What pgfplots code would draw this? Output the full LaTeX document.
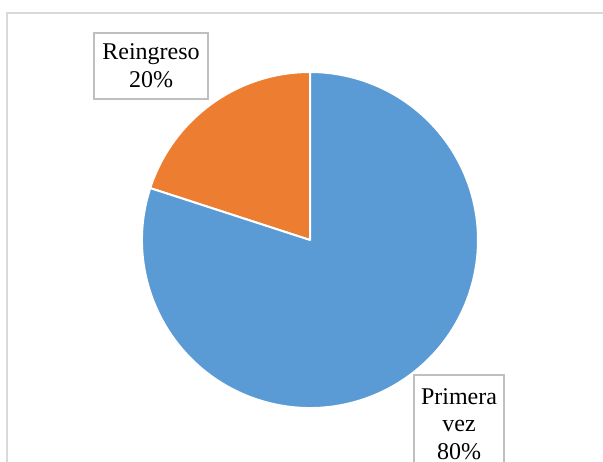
\documentclass[border=0pt]{standalone}
\usepackage{fontspec}
\setmainfont{Liberation Serif}
\usepackage{pgfplots}
\usepackage{pgfplotstable}
\pgfplotsset{compat=1.18}
\definecolor{cBlue}{HTML}{5B9BD5}
\definecolor{cOrange}{HTML}{ED7D31}
\definecolor{cFrame}{HTML}{D9D9D9}
\definecolor{cLbl}{HTML}{BFBFBF}
\pgfplotstableread{
label value
Primera 80
Reingreso 20
}\piedata
\begin{document}
\begin{tikzpicture}
\pgfplotstablegetelem{0}{value}\of\piedata \pgfmathsetmacro{\vA}{\pgfplotsretval}
\pgfplotstablegetelem{1}{value}\of\piedata \pgfmathsetmacro{\vB}{\pgfplotsretval}
\pgfmathsetmacro{\tot}{\vA+\vB}
\pgfmathsetmacro{\aStart}{90}
\pgfmathsetmacro{\aMid}{90+360*\vB/\tot}
\pgfmathsetmacro{\aEnd}{450}
\useasboundingbox (0,0) rectangle (603pt,461pt);
\clip (0,0) rectangle (603pt,461pt);
\begin{axis}[
  at={(0,0)}, anchor=south west,
  x=1pt, y=1pt, y dir=reverse,
  xmin=0, xmax=603, ymin=0, ymax=461,
  hide axis, scale only axis, clip=false,
]
\draw[cFrame, line width=1.8pt] (axis cs:7,13) rectangle (axis cs:640,500);
\fill[cOrange, draw=white, line width=2pt, line join=round]
  (axis cs:310,240) -- ++(\aStart:168pt) arc[start angle=\aStart, end angle=\aMid, radius=168pt] -- cycle;
\fill[cBlue, draw=white, line width=2pt, line join=round]
  (axis cs:310,240) -- ++(\aMid:168pt) arc[start angle=\aMid, end angle=\aEnd, radius=168pt] -- cycle;
\node[draw=cLbl, line width=1.2pt, fill=white, align=center, inner sep=0pt,
  minimum width=114pt, minimum height=66pt,
  font=\fontsize{24}{28}\selectfont] at (axis cs:151,66) {Reingreso\\20\%};
\node[draw=cLbl, line width=1.2pt, fill=white, align=center, inner sep=0pt,
  minimum width=90pt, minimum height=98pt,
  font=\fontsize{24}{27.5}\selectfont] at (axis cs:459,424) {Primera\\vez\\80\%};
\end{axis}
\end{tikzpicture}
\end{document}
